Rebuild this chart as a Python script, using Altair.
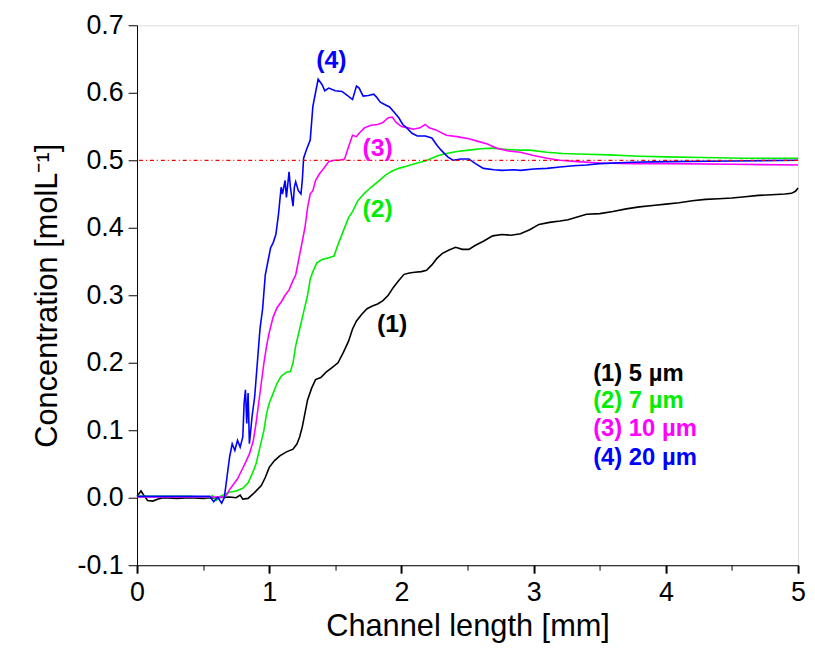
import altair as alt
import pandas as pd

# ---- data ----
x1 = [0, 0.03, 0.05, 0.08, 0.12, 0.16, 0.2, 0.3, 0.4, 0.5, 0.6, 0.7, 0.75, 0.78, 0.80, 0.84, 0.88, 0.91, 0.94, 0.97,
      1.0, 1.04, 1.08, 1.13, 1.18, 1.21, 1.23, 1.25, 1.27, 1.29, 1.32, 1.35, 1.39, 1.43, 1.47, 1.52, 1.56, 1.60, 1.63,
      1.66, 1.70, 1.74, 1.78, 1.82, 1.86, 1.90, 1.94, 1.98, 2.02, 2.06, 2.10, 2.15, 2.19, 2.23, 2.27, 2.31, 2.36, 2.41,
      2.46, 2.51, 2.56, 2.62, 2.69, 2.76, 2.83, 2.90, 2.97, 3.04, 3.12, 3.20, 3.26, 3.33, 3.40, 3.50, 3.60, 3.70, 3.80,
      3.90, 4.0, 4.10, 4.20, 4.30, 4.40, 4.50, 4.60, 4.70, 4.80, 4.90, 4.95, 4.98, 5.0]
y1 = [0.002, 0.01, 0.004, -0.004, -0.005, -0.002, 0.0, -0.001, 0.0, -0.001, 0.0, 0.001, 0.0, 0.004, -0.002, -0.001,
      0.006, 0.012, 0.018, 0.03, 0.045, 0.055, 0.062, 0.068, 0.072, 0.08, 0.09, 0.105, 0.125, 0.145, 0.162, 0.175,
      0.178, 0.186, 0.192, 0.2, 0.215, 0.232, 0.25, 0.262, 0.272, 0.28, 0.284, 0.287, 0.292, 0.3, 0.312, 0.322, 0.331,
      0.333, 0.334, 0.335, 0.337, 0.345, 0.355, 0.362, 0.367, 0.371, 0.368, 0.368, 0.374, 0.38, 0.388, 0.39, 0.389,
      0.391, 0.397, 0.405, 0.408, 0.41, 0.412, 0.416, 0.42, 0.421, 0.424, 0.428, 0.431, 0.433, 0.435, 0.437, 0.44,
      0.442, 0.443, 0.444, 0.446, 0.448, 0.449, 0.45, 0.451, 0.454, 0.459]

x2 = [0, 0.2, 0.4, 0.55, 0.57, 0.6, 0.63, 0.66, 0.70, 0.75, 0.80, 0.84, 0.87, 0.90, 0.93, 0.96, 0.98, 1.0, 1.03, 1.06,
      1.09, 1.13, 1.16, 1.18, 1.20, 1.23, 1.26, 1.29, 1.31, 1.33, 1.36, 1.40, 1.44, 1.49, 1.52, 1.56, 1.60, 1.63, 1.67,
      1.72, 1.77, 1.82, 1.88, 1.93, 1.98, 2.05, 2.12, 2.18, 2.23, 2.28, 2.34, 2.42, 2.51, 2.60, 2.69, 2.80, 2.90, 2.97,
      3.1, 3.22, 3.4, 3.57, 3.8, 4.0, 4.28, 4.6, 5.0]
y2 = [0.002, 0.002, 0.002, 0.0, 0.003, -0.004, 0.002, 0.005, 0.008, 0.01, 0.014, 0.022, 0.035, 0.05, 0.075, 0.1, 0.125,
      0.14, 0.155, 0.17, 0.18, 0.186, 0.187, 0.2, 0.225, 0.25, 0.275, 0.3, 0.324, 0.335, 0.348, 0.353, 0.355, 0.358,
      0.375, 0.395, 0.415, 0.424, 0.44, 0.451, 0.46, 0.468, 0.478, 0.484, 0.488, 0.492, 0.496, 0.499, 0.503, 0.507,
      0.51, 0.513, 0.515, 0.517, 0.518, 0.516, 0.515, 0.515, 0.512, 0.51, 0.509, 0.508, 0.506, 0.505, 0.504, 0.503,
      0.503]

x3 = [0, 0.3, 0.66, 0.68, 0.70, 0.73, 0.76, 0.79, 0.82, 0.85, 0.88, 0.90, 0.92, 0.94, 0.96, 0.98, 1.0, 1.03, 1.06,
      1.09, 1.12, 1.15, 1.18, 1.20, 1.22, 1.25, 1.27, 1.29, 1.31, 1.33, 1.35, 1.38, 1.40, 1.42, 1.45, 1.49, 1.53, 1.57,
      1.60, 1.63, 1.66, 1.68, 1.72, 1.77, 1.82, 1.86, 1.90, 1.93, 1.96, 2.0, 2.05, 2.09, 2.14, 2.18, 2.21, 2.26, 2.34,
      2.42, 2.51, 2.58, 2.65, 2.72, 2.80, 2.90, 3.0, 3.1, 3.2, 3.33, 3.5, 3.75, 4.0, 4.5, 5.0]
y3 = [0.001, 0.001, 0.001, 0.005, 0.012, 0.02, 0.028, 0.04, 0.052, 0.065, 0.085, 0.11, 0.14, 0.17, 0.2, 0.225, 0.245,
      0.268, 0.282, 0.29, 0.3, 0.308, 0.322, 0.33, 0.35, 0.38, 0.4, 0.43, 0.45, 0.455, 0.47, 0.48, 0.485, 0.49, 0.498,
      0.5, 0.5, 0.502, 0.52, 0.537, 0.535, 0.54, 0.548, 0.552, 0.553, 0.556, 0.563, 0.564, 0.556, 0.55, 0.548, 0.546,
      0.548, 0.553, 0.548, 0.545, 0.537, 0.535, 0.532, 0.528, 0.524, 0.518, 0.514, 0.512, 0.507, 0.503, 0.5, 0.498,
      0.496, 0.495, 0.495, 0.494, 0.493]

x4 = [0, 0.2, 0.4, 0.55, 0.58, 0.61, 0.64, 0.66, 0.68, 0.70, 0.72, 0.74, 0.76, 0.78, 0.80, 0.81, 0.82, 0.83, 0.84,
      0.85, 0.87, 0.89, 0.91, 0.93, 0.95, 0.97, 0.99, 1.01, 1.03, 1.05, 1.07, 1.09, 1.10, 1.12, 1.13, 1.15, 1.16, 1.18,
      1.19, 1.20, 1.22, 1.24, 1.25, 1.26, 1.28, 1.31, 1.33, 1.35, 1.37, 1.40, 1.42, 1.45, 1.50, 1.55, 1.59, 1.63, 1.66,
      1.68, 1.71, 1.75, 1.79, 1.81, 1.84, 1.88, 1.91, 1.95, 1.98, 2.01, 2.04, 2.08, 2.12, 2.18, 2.23, 2.27, 2.30, 2.35,
      2.39, 2.45, 2.51, 2.56, 2.62, 2.70, 2.76, 2.85, 2.90, 3.0, 3.1, 3.2, 3.3, 3.4, 3.5, 3.75, 4.0, 4.5, 5.0]
y4 = [0.002, 0.002, 0.002, 0.002, -0.006, 0.001, -0.008, 0.0, 0.03, 0.06, 0.08, 0.07, 0.085, 0.075, 0.09, 0.14, 0.16,
      0.11, 0.155, 0.08, 0.12, 0.15, 0.2, 0.25, 0.28, 0.33, 0.35, 0.37, 0.378, 0.39, 0.42, 0.46, 0.45, 0.47, 0.445,
      0.483, 0.46, 0.432, 0.46, 0.468, 0.455, 0.45, 0.47, 0.503, 0.515, 0.53, 0.58, 0.6, 0.62, 0.612, 0.603, 0.607,
      0.603, 0.602, 0.596, 0.59, 0.61, 0.607, 0.595, 0.596, 0.598, 0.594, 0.586, 0.582, 0.579, 0.57, 0.563, 0.553,
      0.548, 0.54, 0.536, 0.536, 0.533, 0.522, 0.515, 0.505, 0.5, 0.502, 0.502, 0.495, 0.488, 0.486, 0.485, 0.486,
      0.485, 0.487, 0.488, 0.49, 0.492, 0.493, 0.495, 0.497, 0.498, 0.499, 0.5]

series_names = ["(1)", "(2)", "(3)", "(4)"]
series_colors = ["#000000", "#00ee00", "#ff00ff", "#0000ff"]

label_x = [1.93, 1.82, 1.82, 1.47]
label_y = [0.257, 0.427, 0.518, 0.648]

legend_text = ["(1) 5 µm", "(2) 7 µm", "(3) 10 µm", "(4) 20 µm"]
legend_x = [3.45, 3.45, 3.45, 3.45]
legend_y = [0.183, 0.143, 0.102, 0.059]

ref_level = [0.5]

x_ticks = [0, 0.5, 1, 1.5, 2, 2.5, 3, 3.5, 4, 4.5, 5]
y_ticks = [-0.1, -0.05, 0, 0.05, 0.1, 0.15, 0.2, 0.25, 0.3, 0.35, 0.4, 0.45, 0.5, 0.55, 0.6, 0.65, 0.7]

# ---- build tables ----
rows = []
for name, xs, ys in zip(series_names, [x1, x2, x3, x4], [y1, y2, y3, y4]):
    for i, (a, b) in enumerate(zip(xs, ys)):
        rows.append({"series": name, "x": a, "y": b, "i": i})
lines_df = pd.DataFrame(rows)

labels_df = pd.DataFrame({"series": series_names, "x": label_x, "y": label_y})
legend_df = pd.DataFrame({"series": series_names, "x": legend_x, "y": legend_y, "text": legend_text})
ref_df = pd.DataFrame({"y": ref_level})

FONT = "Liberation Sans"

xscale = alt.Scale(domain=[0, 5], nice=False, zero=False)
yscale = alt.Scale(domain=[-0.1, 0.7], nice=False, zero=False)
cscale = alt.Scale(domain=series_names, range=series_colors)

x_axis = alt.Axis(
    values=x_ticks,
    labelExpr="datum.value % 1 === 0 ? format(datum.value, 'd') : ''",
    tickSize={"condition": {"test": "datum.value % 1 === 0", "value": 8}, "value": 5},
    tickWidth={"condition": {"test": "datum.value % 1 === 0", "value": 2}, "value": 1},
    grid=False, labelOverlap=False, labelFlush=False,
    labelFontSize=27, labelPadding=7, labelColor="black", tickColor="black",
    domainColor="black", title="Channel length [mm]", titleFontSize=31,
    titleFontWeight="normal", titlePadding=6, titleColor="black",
)
y_axis = alt.Axis(
    values=y_ticks,
    labelExpr="round(datum.value*100) % 10 === 0 ? replace(format(datum.value, '.1f'), '\u2212', '-') : ''",
    tickSize={"condition": {"test": "round(datum.value*100) % 10 === 0", "value": 9}, "value": 5},
    grid=False, labelOverlap=False, labelFlush=False,
    labelFontSize=27, labelPadding=5, labelColor="black", tickColor="black",
    domainColor="black", title="Concentration [molL\u207b\u00b9]", titleFontSize=31,
    titleFontWeight="normal", titlePadding=14, titleColor="black",
)

lines = alt.Chart(lines_df).mark_line(strokeWidth=1.6).encode(
    x=alt.X("x:Q", scale=xscale, axis=x_axis),
    y=alt.Y("y:Q", scale=yscale, axis=y_axis),
    color=alt.Color("series:N", scale=cscale, legend=None),
    order="i:Q",
    detail="series:N",
)

ref = alt.Chart(ref_df).mark_rule(color="#ff0000", strokeWidth=1.3, strokeDash=[4, 3, 1, 3]).encode(
    y=alt.Y("y:Q", scale=yscale)
)

labels = alt.Chart(labels_df).mark_text(fontSize=25, font=FONT, fontWeight="bold").encode(
    x=alt.X("x:Q", scale=xscale),
    y=alt.Y("y:Q", scale=yscale),
    text="series:N",
    color=alt.Color("series:N", scale=cscale, legend=None),
)

legend = alt.Chart(legend_df).mark_text(fontSize=24, font=FONT, fontWeight="bold", align="left").encode(
    x=alt.X("x:Q", scale=xscale),
    y=alt.Y("y:Q", scale=yscale),
    text="text:N",
    color=alt.Color("series:N", scale=cscale, legend=None),
)

chart = alt.layer(lines, ref, labels, legend).properties(
    width=666,
    height=544,
    autosize="none",
    padding={"left": 130, "top": 15, "right": 9, "bottom": 84},
).configure_view(
    stroke="black", strokeWidth=1.2
).configure_axis(
    labelFont=FONT, titleFont=FONT, domainWidth=1.2
).configure(background="white")

chart.save("out.html", embed_options={"renderer": "svg", "actions": False})
